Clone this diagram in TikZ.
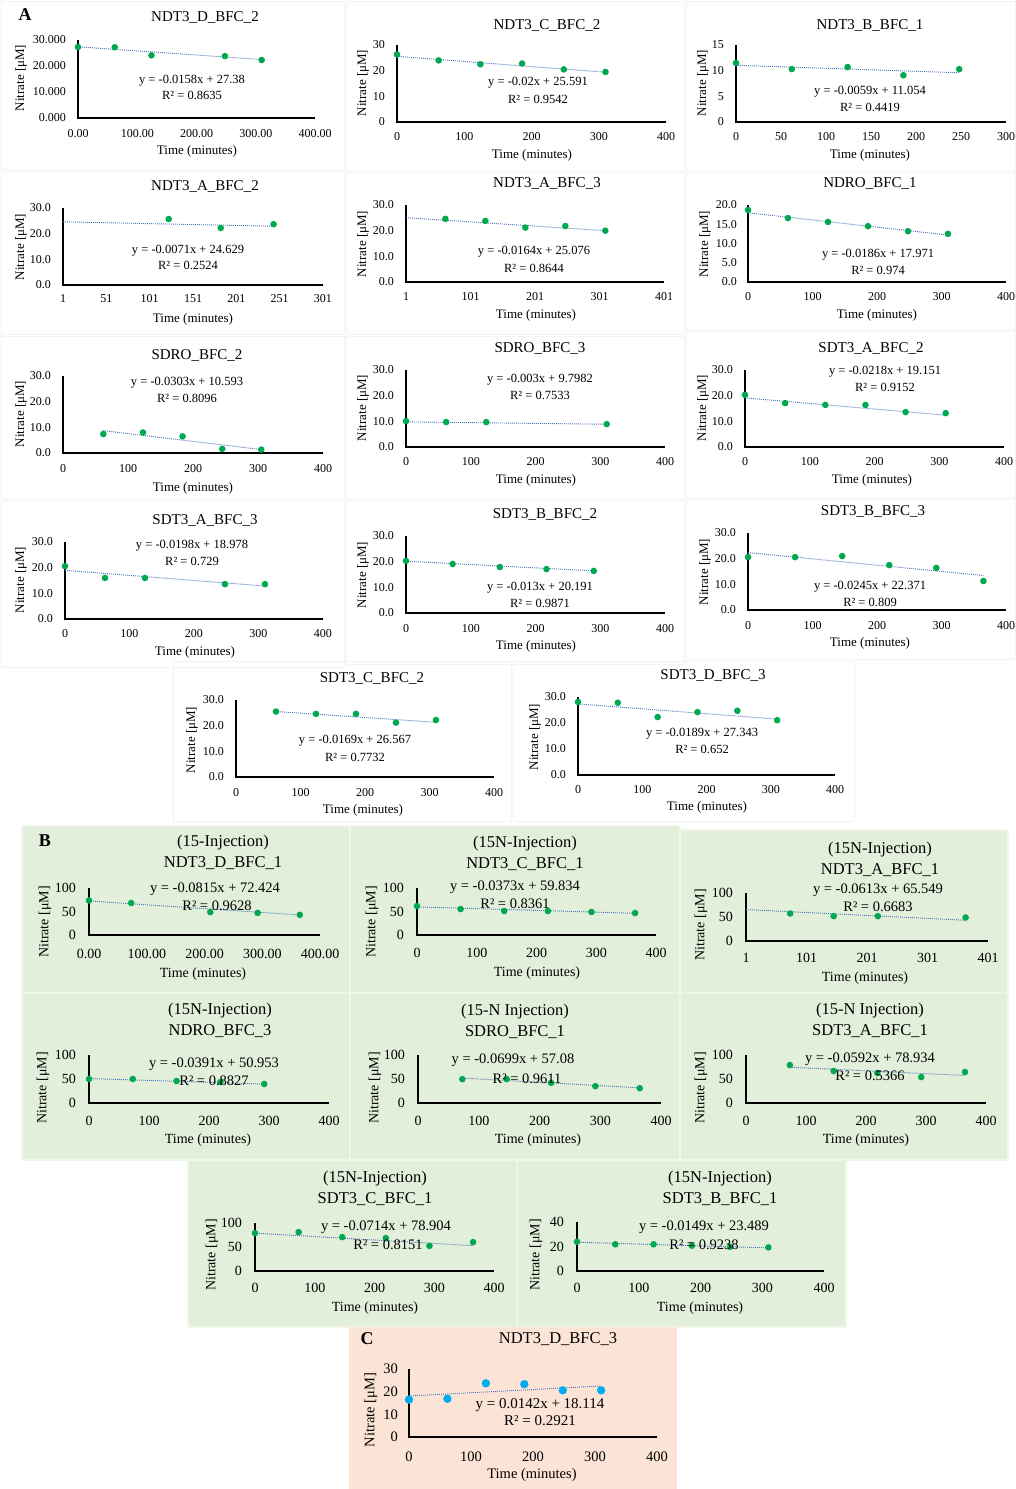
\documentclass[tikz,border=0pt]{standalone}
\usepackage{fontspec}
\setmainfont{Liberation Serif}
\definecolor{dotg}{RGB}{0,168,80}
\definecolor{dotb}{RGB}{0,172,238}
\definecolor{trendc}{RGB}{80,120,190}
\definecolor{bgB}{RGB}{226,239,218}
\definecolor{bgBline}{RGB}{240,246,236}
\definecolor{bgC}{RGB}{251,228,214}
\definecolor{frameA}{RGB}{243,243,243}
\tikzset{
  axisline/.style={line width=1.8pt},
  trendline/.style={line width=0.9pt, trendc, dash pattern=on 1pt off 1pt},
  lbl/.style={inner sep=0pt, anchor=center},
}
\newcommand\chart[8]{%
  \def\cid{#1}\def\ox{#2}\def\oy{#3}\def\xmn{#6}%
  \pgfmathsetmacro\sx{#4/#7}\pgfmathsetmacro\sy{#5/#8}%
  \coordinate (#1top) at (#2,#3-#5);
  \coordinate (#1o) at (#2,#3);
  \coordinate (#1end) at (#2+#4,#3);
  \draw[axisline] (#1top) -- (#1o) -- (#1end);}
\newcommand\pts[1]{\foreach \ta/\va in {#1}{\fill[dotg] ({\ox+(\ta-\xmn)*\sx},{\oy-\va*\sy}) circle[radius=3.3pt];}}
\newcommand\ptsC[1]{\foreach \ta/\va in {#1}{\fill[dotb] ({\ox+(\ta-\xmn)*\sx},{\oy-\va*\sy}) circle[radius=4.2pt];}}
\newcommand\trend[4]{\draw[trendline] ({\ox+(#1-\xmn)*\sx},{\oy-((#3)*(#1)+(#4))*\sy}) -- ({\ox+(#2-\xmn)*\sx},{\oy-((#3)*(#2)+(#4))*\sy});}
\newcommand\xt[2]{\foreach \ta/\la [count=\i] in {#2}{\node[lbl,font=\ftick] (\cid x\i) at ({\ox+(\ta-\xmn)*\sx},{\oy+#1}) {\la};}}
\newcommand\yt[2]{\foreach \va/\la [count=\i] in {#2}{\node[lbl,anchor=east,font=\ftick] (\cid y\i) at ({\ox-#1},{\oy-\va*\sy}) {\la};}}
\newcommand\labs[9]{%
  \node[lbl,font=\ftitle,align=center] (#1title) at (#2) {#3};
  \node[lbl,font=\feq] (#1eq) at (#4) {#5};
  \node[lbl,font=\feq] (#1r2) at (#6) {R² = #7};
  \node[lbl,rotate=90,font=\faxis] (#1ylab) at (#8) {Nitrate [μM]};
  \node[lbl,font=\faxis] (#1xlab) at (#9) {Time (minutes)};}
\begin{document}
\begin{tikzpicture}[x=1pt,y=-1pt]
\useasboundingbox (0,0) rectangle (1016,1489);
\fill[white] (0,0) rectangle (1016,1489);
% ---------- panel frames
\foreach \xa/\ya/\xb/\yb in {0/0/345/170, 345/0/685/172, 685/0/1016/172, 0/170/345/335, 345/172/685/335, 685/172/1016/330, 0/335/345/500, 345/335/685/500, 685/330/1016/498, 0/500/345/668, 345/500/685/665, 685/498/1016/660, 172/660/512/822, 512/660/855/822}
  \draw[frameA, line width=0.7pt] (\xa+1,\ya+1) rectangle (\xb-1,\yb-1);
\foreach \xa/\ya/\xb/\yb in {22/826/350/993, 350/826/680/993, 680/830/1008/993, 22/993/350/1160, 350/993/680/1160, 680/993/1008/1160, 188/1160/517/1327, 517/1160/846/1327}
  \filldraw[fill=bgB, draw=bgBline, line width=1.2pt] (\xa,\ya) rectangle (\xb,\yb);
\fill[bgC] (349,1327) rectangle (677,1489);
% ================= PANEL A
\def\ftitle{\fontsize{15}{18}\selectfont}
\def\feq{\fontsize{12.5}{14}\selectfont}
\def\ftick{\fontsize{12}{14}\selectfont}
\def\faxis{\fontsize{13}{15}\selectfont}
\node[lbl,font=\bfseries\fontsize{18}{20}\selectfont] (labA) at (25,15) {A};
% A1
\chart{a1}{78}{118}{237}{78}{0}{400}{30}
\yt{12}{0/0.000,10/10.000,20/20.000,30/30.000}
\xt{16}{0/0.00,100/100.00,200/200.00,300/300.00,400/400.00}
\trend{0}{310}{-0.0158}{27.38}
\pts{0/27.3,62/27.2,124/24.1,248/23.8,310/22.3}
\labs{a1}{205,17}{NDT3\_D\_BFC\_2}{192,81}{y = -0.0158x + 27.38}{192,95}{0.8635}{21,78}{197,151}
% A2
\chart{a2}{397}{122}{269}{77}{0}{400}{30}
\yt{12}{0/0,10/10,20/20,30/30}
\xt{15}{0/0,100/100,200/200,300/300,400/400}
\trend{0}{310}{-0.02}{25.591}
\pts{0/26.3,62/24.0,124/22.5,186/22.8,248/20.5,310/19.5}
\labs{a2}{547,25}{NDT3\_C\_BFC\_2}{538,83}{y = -0.02x + 25.591}{538,99}{0.9542}{363,83}{532,155}
% A3
\chart{a3}{736}{122}{270}{77}{0}{300}{15}
\yt{12}{0/0,5/5,10/10,15/15}
\xt{15}{0/0,50/50,100/100,150/150,200/200,250/250,300/300}
\trend{0}{248}{-0.0059}{11.054}
\pts{0/11.5,62/10.3,124/10.7,186/9.1,248/10.3}
\labs{a3}{870,25}{NDT3\_B\_BFC\_1}{870,92}{y = -0.0059x + 11.054}{870,107}{0.4419}{703,83}{870,155}
% A4
\chart{a4}{63}{285}{260}{77}{1}{300}{30}
\yt{12}{0/0.0,10/10.0,20/20.0,30/30.0}
\xt{14}{1/1,51/51,101/101,151/151,201/201,251/251,301/301}
\trend{1}{244}{-0.0071}{24.629}
\pts{123/25.7,183/22.2,244/23.7}
\labs{a4}{205,186}{NDT3\_A\_BFC\_2}{188,251}{y = -0.0071x + 24.629}{188,265}{0.2524}{21,247}{193,319}
% A5
\chart{a5}{406}{282}{258}{77}{1}{400}{30}
\yt{12}{0/0.0,10/10.0,20/20.0,30/30.0}
\xt{15}{1/1,101/101,201/201,301/301,401/401}
\trend{1}{310}{-0.0164}{25.076}
\pts{62/24.6,124/23.8,186/21.2,248/21.8,310/20.0}
\labs{a5}{547,183}{NDT3\_A\_BFC\_3}{534,252}{y = -0.0164x + 25.076}{534,268}{0.8644}{363,244}{536,315}
% A6
\chart{a6}{748}{282}{258}{77}{0}{400}{20}
\yt{11}{0/0.0,5/5.0,10/10.0,15/15.0,20/20.0}
\xt{15}{0/0,100/100,200/200,300/300,400/400}
\trend{0}{310}{-0.0186}{17.971}
\pts{0/18.7,62/16.6,124/15.6,186/14.5,248/13.2,310/12.5}
\labs{a6}{870,183}{NDRO\_BFC\_1}{878,255}{y = -0.0186x + 17.971}{878,270}{0.974}{705,244}{877,315}
% A7
\chart{a7}{63}{453}{260}{77}{0}{400}{30}
\yt{12}{0/0.0,10/10.0,20/20.0,30/30.0}
\xt{16}{0/0,100/100,200/200,300/300,400/400}
\trend{62}{305}{-0.0303}{10.593}
\pts{62/7.4,123/8.0,184/6.5,245/1.6,305/1.3}
\labs{a7}{197,355}{SDRO\_BFC\_2}{187,383}{y = -0.0303x + 10.593}{187,398}{0.8096}{21,414}{193,488}
% A8
\chart{a8}{406}{447}{259}{77}{0}{400}{30}
\yt{12}{0/0.0,10/10.0,20/20.0,30/30.0}
\xt{15}{0/0,100/100,200/200,300/300,400/400}
\trend{0}{310}{-0.003}{9.7982}
\pts{0/10.1,62/9.7,124/9.7,310/8.9}
\labs{a8}{540,348}{SDRO\_BFC\_3}{540,380}{y = -0.003x + 9.7982}{540,395}{0.7533}{363,408}{536,480}
% A9
\chart{a9}{745}{447}{259}{77}{0}{400}{30}
\yt{12}{0/0.0,10/10.0,20/20.0,30/30.0}
\xt{15}{0/0,100/100,200/200,300/300,400/400}
\trend{0}{310}{-0.0218}{19.151}
\pts{0/20.3,62/17.1,124/16.4,186/16.4,248/13.6,310/13.2}
\labs{a9}{871,348}{SDT3\_A\_BFC\_2}{885,372}{y = -0.0218x + 19.151}{885,387}{0.9152}{703,408}{872,480}
% A10
\chart{a10}{65}{619}{258}{77}{0}{400}{30}
\yt{12}{0/0.0,10/10.0,20/20.0,30/30.0}
\xt{15}{0/0,100/100,200/200,300/300,400/400}
\trend{0}{310}{-0.0198}{18.978}
\pts{0/20.6,62/16.0,124/16.0,248/13.6,310/13.6}
\labs{a10}{205,520}{SDT3\_A\_BFC\_3}{192,546}{y = -0.0198x + 18.978}{192,561}{0.729}{21,580}{195,652}
% A11
\chart{a11}{406}{613}{259}{77}{0}{400}{30}
\yt{12}{0/0.0,10/10.0,20/20.0,30/30.0}
\xt{16}{0/0,100/100,200/200,300/300,400/400}
\trend{0}{290}{-0.013}{20.191}
\pts{0/20.3,72/19.1,145/17.9,217/17.1,290/16.4}
\labs{a11}{545,514}{SDT3\_B\_BFC\_2}{540,588}{y = -0.013x + 20.191}{540,603}{0.9871}{363,575}{536,646}
% A12
\chart{a12}{748}{610}{258}{77}{0}{400}{30}
\yt{12}{0/0.0,10/10.0,20/20.0,30/30.0}
\xt{16}{0/0,100/100,200/200,300/300,400/400}
\trend{0}{365}{-0.0245}{22.371}
\pts{0/20.6,73/20.6,146/21.0,219/17.5,292/16.4,365/11.3}
\labs{a12}{873,511}{SDT3\_B\_BFC\_3}{870,587}{y = -0.0245x + 22.371}{870,602}{0.809}{705,572}{870,643}
% A13
\chart{a13}{236}{777}{258}{77}{0}{400}{30}
\yt{12}{0/0.0,10/10.0,20/20.0,30/30.0}
\xt{16}{0/0,100/100,200/200,300/300,400/400}
\trend{62}{310}{-0.0169}{26.567}
\pts{62/25.5,124/24.6,186/24.6,248/21.2,310/22.2}
\labs{a13}{372,678}{SDT3\_C\_BFC\_2}{355,741}{y = -0.0169x + 26.567}{355,757}{0.7732}{192,740}{363,810}
% A14
\chart{a14}{578}{775}{257}{78}{0}{400}{30}
\yt{12}{0/0.0,10/10.0,20/20.0,30/30.0}
\xt{15}{0/0,100/100,200/200,300/300,400/400}
\trend{0}{310}{-0.0189}{27.343}
\pts{0/28.1,62/27.8,124/22.3,186/24.2,248/24.7,310/21.1}
\labs{a14}{713,675}{SDT3\_D\_BFC\_3}{702,734}{y = -0.0189x + 27.343}{702,749}{0.652}{535,737}{707,807}
% ================= PANEL B
\def\ftitle{\fontsize{16.5}{21}\selectfont}
\def\feq{\fontsize{14.5}{16}\selectfont}
\def\ftick{\fontsize{14}{16}\selectfont}
\def\faxis{\fontsize{14}{16}\selectfont}
\node[lbl,font=\bfseries\fontsize{18}{20}\selectfont] (labB) at (45,841) {B};
% B1
\chart{b1}{89}{935}{231}{47}{0}{400}{100}
\yt{13}{0/0,50/50,100/100}
\xt{19}{0/0.00,100/100.00,200/200.00,300/300.00,400/400.00}
\trend{0}{365}{-0.0815}{72.424}
\pts{0/73.5,73/68,210/48.8,292/47.1,365/42.8}
\labs{b1}{223,852}{(15-Injection)\\NDT3\_D\_BFC\_1}{215,889}{y = -0.0815x + 72.424}{217,906}{0.9628}{45,922}{203,974}
% B2
\chart{b2}{417}{935}{239}{47}{0}{400}{100}
\yt{13}{0/0,50/50,100/100}
\xt{18}{0/0,100/100,200/200,300/300,400/400}
\trend{0}{365}{-0.0373}{59.834}
\pts{0/61.7,73/55.3,146/51,219/51,292/49,365/46.8}
\labs{b2}{525,853}{(15N-Injection)\\NDT3\_C\_BFC\_1}{515,887}{y = -0.0373x + 59.834}{515,904}{0.8361}{372,922}{537,973}
% B3
\chart{b3}{746}{941}{242}{48}{1}{400}{100}
\yt{13}{0/0,50/50,100/100}
\xt{17}{1/1,101/101,201/201,301/301,401/401}
\trend{1}{365}{-0.0613}{65.549}
\pts{74/57.3,146/51.8,219/51.8,364/49}
\labs{b3}{880,859}{(15N-Injection)\\NDT3\_A\_BFC\_1}{878,890}{y = -0.0613x + 65.549}{878,907}{0.6683}{701,925}{865,978}
% B4
\chart{b4}{89}{1103}{240}{48}{0}{400}{100}
\yt{13}{0/0,50/50,100/100}
\xt{18}{0/0,100/100,200/200,300/300,400/400}
\trend{0}{292}{-0.0391}{50.953}
\pts{0/50,73/50,146/45.8,219/43.7,292/39.6}
\labs{b4}{220,1020}{(15N-Injection)\\NDRO\_BFC\_3}{214,1064}{y = -0.0391x + 50.953}{214,1081}{0.8827}{43,1088}{208,1140}
% B5
\chart{b5}{418}{1103}{243}{48}{0}{400}{100}
\yt{13}{0/0,50/50,100/100}
\xt{18}{0/0,100/100,200/200,300/300,400/400}
\trend{73}{365}{-0.0699}{57.08}
\pts{73/49.7,146/49.7,219/42,292/35,365/30.8}
\labs{b5}{515,1021}{(15-N Injection)\\SDRO\_BFC\_1}{513,1060}{y = -0.0699x + 57.08}{527,1079}{0.9611}{375,1088}{538,1140}
% B6
\chart{b6}{746}{1103}{240}{48}{0}{400}{100}
\yt{13}{0/0,50/50,100/100}
\xt{18}{0/0,100/100,200/200,300/300,400/400}
\trend{73}{365}{-0.0592}{78.934}
\pts{73/79,146/66.7,219/62.5,292/54,365/64.6}
\labs{b6}{870,1020}{(15-N Injection)\\SDT3\_A\_BFC\_1}{870,1059}{y = -0.0592x + 78.934}{870,1076}{0.5366}{701,1088}{866,1140}
% B7
\chart{b7}{255}{1271}{239}{48}{0}{400}{100}
\yt{13}{0/0,50/50,100/100}
\xt{17}{0/0,100/100,200/200,300/300,400/400}
\trend{0}{365}{-0.0714}{78.904}
\pts{0/79,73/81,146/70.6,219/68.5,292/52.4,365/60.2}
\labs{b7}{375,1188}{(15N-Injection)\\SDT3\_C\_BFC\_1}{386,1227}{y = -0.0714x + 78.904}{388,1245}{0.8151}{212,1255}{375,1308}
% B8
\chart{b8}{577}{1271}{247}{49}{0}{400}{40}
\yt{13}{0/0,20/20,40/40}
\xt{17}{0/0,100/100,200/200,300/300,400/400}
\trend{0}{310}{-0.0149}{23.489}
\pts{0/23.9,62/21.8,124/21.8,186/20.7,248/19.8,310/19.3}
\labs{b8}{720,1188}{(15N-Injection)\\SDT3\_B\_BFC\_1}{704,1227}{y = -0.0149x + 23.489}{704,1245}{0.9238}{536,1255}{700,1308}
% ================= PANEL C
\def\ftitle{\fontsize{16.5}{20}\selectfont}
\def\feq{\fontsize{15}{17}\selectfont}
\def\ftick{\fontsize{14.5}{16}\selectfont}
\def\faxis{\fontsize{14.5}{16}\selectfont}
\node[lbl,font=\bfseries\fontsize{18}{20}\selectfont] (labC) at (367,1339) {C};
\chart{c1}{409}{1437}{248}{68}{0}{400}{30}
\yt{11}{0/0,10/10,20/20,30/30}
\xt{20}{0/0,100/100,200/200,300/300,400/400}
\trend{0}{310}{0.0142}{18.114}
\ptsC{0/16.5,62/16.9,124/23.7,186/23.3,248/20.6,310/20.6}
\labs{c1}{558,1339}{NDT3\_D\_BFC\_3}{540,1405}{y = 0.0142x + 18.114}{540,1421}{0.2921}{371,1410}{532,1475}
\end{tikzpicture}
\end{document}
